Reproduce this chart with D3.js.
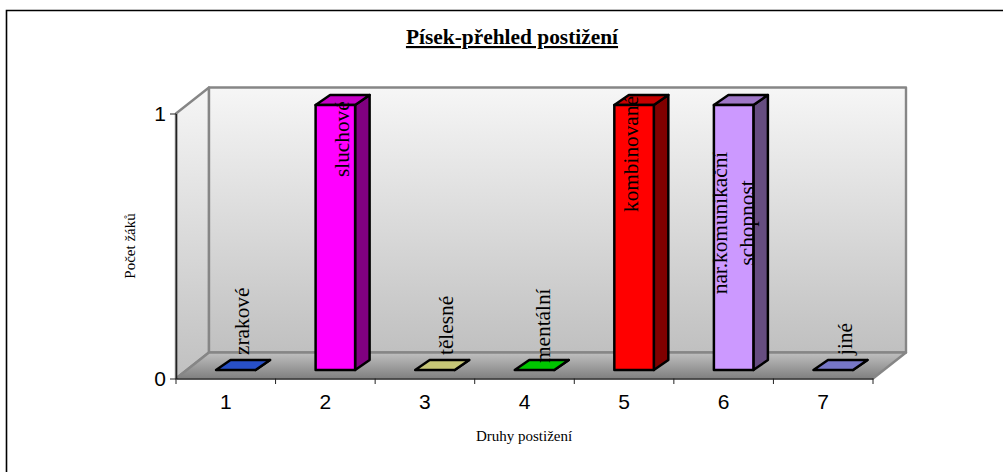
<!DOCTYPE html>
<html>
<head>
<meta charset="utf-8">
<script src="https://cdn.jsdelivr.net/npm/d3@7"></script>
<style>
  html, body { margin: 0; padding: 0; background: #fff; }
  svg { display: block; }
</style>
</head>
<body>
<div id="chart"></div>
<script>
// values
const categories = ["1", "2", "3", "4", "5", "6", "7"];
const counts = [0, 1, 0, 0, 1, 1, 0];
const labels = [["zrakové"], ["sluchové"], ["tělesné"], ["mentální"], ["kombinované"], ["nar.komunikační", "schopnost"], ["jiné"]];
const colors = ["#3366ff", "#ff00ff", "#ffff99", "#00ff00", "#ff0000", "#cc99ff", "#9999ff"];
const yTicks = [0, 1];

const width = 1003;
const height = 472;

// set the dimensions of the plot (front edge of the floor)
const plotLeft = 176, plotRight = 873, plotBottom = 378.5, plotTop = 113.5;
// depth of the 3d box
const depthX = 33, depthY = -26;

const svg = d3.select("#chart")
  .append("svg")
    .attr("width", width)
    .attr("height", height);

const x = d3.scaleBand().domain(categories).range([plotLeft, plotRight]);
const y = d3.scaleLinear().domain([0, 1]).range([plotBottom, plotTop]);

// gradients for walls and floor
const defs = svg.append("defs");
function gradient(id, from, to) {
  const g = defs.append("linearGradient").attr("id", id)
    .attr("x1", 0).attr("y1", 0).attr("x2", 0).attr("y2", 1);
  g.append("stop").attr("offset", "0%").attr("stop-color", from);
  g.append("stop").attr("offset", "100%").attr("stop-color", to);
}
gradient("wall", "#f6f6f6", "#c0c0c0");
gradient("floor", "#c0c0c0", "#808080");

const poly = pts => pts.map(p => p.join(",")).join(" ");

// outer frame, only the top and left edges are inside the picture
svg.append("path")
  .attr("d", `M6.5,${height}V10.5H${width}`)
  .attr("fill", "none")
  .attr("stroke", "#000")
  .attr("stroke-width", 1.6);

// left wall, back wall, floor
const box = svg.append("g").attr("stroke", "#868686").attr("stroke-width", 2.4).attr("stroke-linejoin", "round");
box.append("polygon")
  .attr("points", poly([[plotLeft, plotTop], [plotLeft + depthX, plotTop + depthY], [plotLeft + depthX, plotBottom + depthY], [plotLeft, plotBottom]]))
  .attr("fill", "url(#wall)");
box.append("polygon")
  .attr("points", poly([[plotLeft + depthX, plotTop + depthY], [plotRight + depthX, plotTop + depthY], [plotRight + depthX, plotBottom + depthY], [plotLeft + depthX, plotBottom + depthY]]))
  .attr("fill", "url(#wall)");
box.append("polygon")
  .attr("points", poly([[plotLeft, plotBottom], [plotLeft + depthX, plotBottom + depthY], [plotRight + depthX, plotBottom + depthY], [plotRight, plotBottom]]))
  .attr("fill", "url(#floor)")
  .attr("stroke", "none");
box.append("polyline")
  .attr("points", poly([[plotLeft, plotBottom], [plotLeft + depthX, plotBottom + depthY], [plotRight + depthX, plotBottom + depthY], [plotRight, plotBottom]]))
  .attr("fill", "none");

// bars
const barW = 39.5, barOffX = 10, barOffY = -8.5, barDX = 14.5, barDY = -10;
const shade = (c, k) => {
  const r = d3.rgb(c);
  return d3.rgb(r.r * k, r.g * k, r.b * k).formatHex();
};

const bars = svg.append("g")
  .selectAll("g")
  .data(categories)
  .join("g")
    .attr("stroke", "#000")
    .attr("stroke-width", 2.5)
    .attr("stroke-linejoin", "round");

bars.each(function(d, i) {
  const g = d3.select(this);
  const x0 = x(d) + x.bandwidth() / 2 - barW / 2 + barOffX;
  const x1 = x0 + barW;
  const y0 = plotBottom + barOffY;
  const yt = y(counts[i]) + barOffY;
  g.append("polygon")
    .attr("points", poly([[x1, y0], [x1 + barDX, y0 + barDY], [x1 + barDX, yt + barDY], [x1, yt]]))
    .attr("fill", shade(colors[i], 0.5));
  g.append("polygon")
    .attr("points", poly([[x0, yt], [x0 + barDX, yt + barDY], [x1 + barDX, yt + barDY], [x1, yt]]))
    .attr("fill", shade(colors[i], 0.78));
  g.append("rect")
    .attr("x", x0).attr("y", yt)
    .attr("width", barW).attr("height", y0 - yt)
    .attr("fill", colors[i]);
});

// axes
const axisY = svg.append("g")
  .attr("transform", `translate(${plotLeft},0)`)
  .call(d3.axisLeft(y).tickValues(yTicks).tickFormat(d3.format("d")).tickSize(6).tickSizeOuter(0));
const axisX = svg.append("g")
  .attr("transform", `translate(0,${plotBottom})`)
  .call(d3.axisBottom(x).tickSize(0).tickPadding(15.5));

// band edges as tick marks on the category axis
axisX.selectAll(".edge")
  .data(d3.range(categories.length + 1))
  .join("line")
    .attr("class", "edge")
    .attr("x1", i => plotLeft + i * x.step())
    .attr("x2", i => plotLeft + i * x.step())
    .attr("y1", 0)
    .attr("y2", 5.5)
    .attr("stroke", "#222");

svg.selectAll(".domain").attr("stroke", "#222").attr("stroke-width", 1.5);
svg.selectAll(".tick line").attr("stroke", "#222");
svg.selectAll(".tick text")
  .attr("font-family", "'Liberation Sans', Arial, sans-serif")
  .attr("font-size", 21)
  .attr("fill", "#000");
axisY.selectAll(".tick text").attr("x", -10);

// data labels, rotated like in the original; each one sits a bit differently
const labelDx = [13, 14, 18, 15, 4, 6.5, 19];
const labelY = [355, 177, 355, 363, 212, 223, 355];
const labelAnchor = ["start", "start", "start", "start", "start", "middle", "start"];
const labelFont = 21.3, labelLine = 27;

const labelGroup = svg.append("g")
  .attr("font-family", "'Liberation Serif', 'Times New Roman', serif")
  .attr("font-size", labelFont)
  .attr("fill", "#000");

categories.forEach((d, i) => {
  const cx = x(d) + x.bandwidth() / 2 + barOffX + labelDx[i];
  labels[i].forEach((line, j) => {
    const bx = cx + (j - (labels[i].length - 1) / 2) * labelLine;
    labelGroup.append("text")
      .attr("transform", `translate(${bx},${labelY[i]}) rotate(-90)`)
      .attr("text-anchor", labelAnchor[i])
      .text(line);
  });
});

// title and axis titles
svg.append("text")
  .attr("x", 512).attr("y", 44)
  .attr("text-anchor", "middle")
  .attr("font-family", "'Liberation Serif', 'Times New Roman', serif")
  .attr("font-size", 21.4)
  .attr("font-weight", "bold")
  .attr("text-decoration", "underline")
  .text("Písek-přehled postižení");

svg.append("text")
  .attr("x", 524).attr("y", 441)
  .attr("text-anchor", "middle")
  .attr("font-family", "'Liberation Serif', 'Times New Roman', serif")
  .attr("font-size", 15)
  .text("Druhy postižení");

svg.append("text")
  .attr("transform", "translate(135,246) rotate(-90)")
  .attr("text-anchor", "middle")
  .attr("font-family", "'Liberation Serif', 'Times New Roman', serif")
  .attr("font-size", 15)
  .text("Počet žáků");
</script>
</body>
</html>
